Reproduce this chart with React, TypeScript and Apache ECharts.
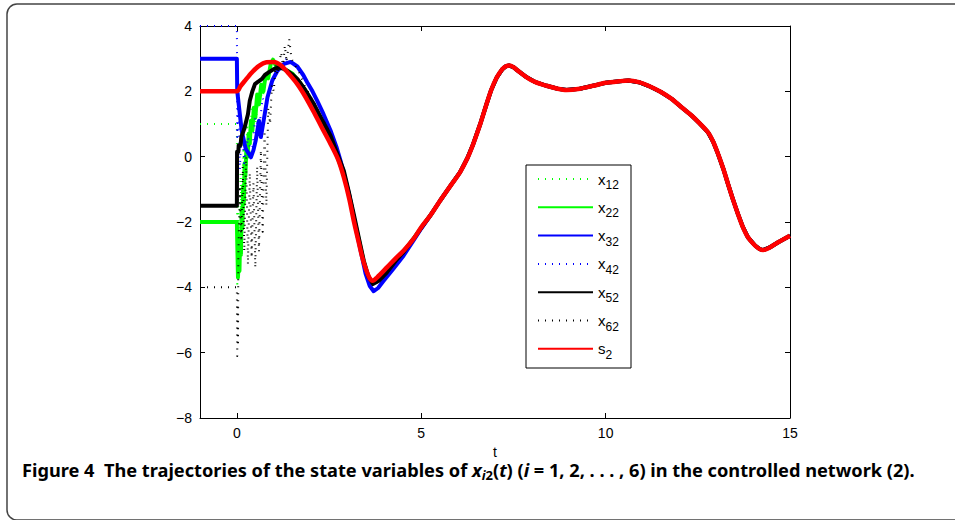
import React, { useEffect, useRef } from 'react';
import * as echarts from 'echarts';

type P = [number, number];

const xTickValues = [0, 5, 10, 15];
const seriesNames = ['x12', 'x22', 'x32', 'x42', 'x52', 'x62', 's2'];

// shared trajectory after synchronization (t >= ~5.2)
const sharedTail: P[] = [
  [5.24, -1.81], [5.51, -1.35], [5.8, -0.88], [6.05, -0.48], [6.25, -0.05], [6.41, 0.39],
  [6.6, 1.0], [6.77, 1.61], [6.9, 2.05], [7.05, 2.43], [7.2, 2.68], [7.3, 2.77], [7.39, 2.79],
  [7.5, 2.74], [7.6, 2.65], [7.86, 2.43], [8.1, 2.28], [8.4, 2.17], [8.7, 2.08], [8.94, 2.04],
  [9.3, 2.08], [9.66, 2.17], [10.0, 2.26], [10.38, 2.31], [10.62, 2.33], [10.9, 2.28],
  [11.16, 2.17], [11.5, 1.98], [11.79, 1.77], [12.05, 1.52], [12.33, 1.26], [12.55, 1.02],
  [12.78, 0.74], [12.92, 0.45], [13.05, 0.08], [13.2, -0.4], [13.32, -0.84], [13.45, -1.3],
  [13.59, -1.76], [13.72, -2.15], [13.86, -2.47], [14.05, -2.72], [14.18, -2.83], [14.27, -2.86],
  [14.45, -2.78], [14.68, -2.62], [15, -2.42],
];

const s2Head: P[] = [
  [-1, 2], [0, 2], [0.1, 2.16], [0.2, 2.3], [0.4, 2.57], [0.6, 2.78], [0.8, 2.89], [1.0, 2.9],
  [1.2, 2.79], [1.4, 2.55], [1.64, 2.22], [1.85, 1.85], [2.09, 1.36], [2.3, 0.9], [2.54, 0.39],
  [2.75, -0.1], [2.9, -0.63], [3.05, -1.3], [3.17, -1.96], [3.3, -2.6], [3.4, -3.08],
  [3.5, -3.45], [3.6, -3.72], [3.68, -3.8], [3.8, -3.7], [4.07, -3.39], [4.3, -3.12],
  [4.52, -2.88], [4.8, -2.5], [5.0, -2.16],
];

const x22Head: P[] = [
  [-1, -2], [0, -2], [0.01, -2.6], [0.03, -3.7], [0.05, -3.1], [0.07, -3.5], [0.09, -2.4],
  [0.11, -3.0], [0.13, -1.6], [0.15, -2.2], [0.17, -0.9], [0.19, -1.4], [0.21, -0.2],
  [0.23, -0.6], [0.26, 0.3], [0.29, 0.0], [0.32, 0.7], [0.35, 0.4], [0.38, 1.1], [0.42, 0.8],
  [0.46, 1.5], [0.5, 1.2], [0.55, 1.9], [0.6, 1.6], [0.66, 2.2], [0.72, 2.0], [0.78, 2.5],
  [0.85, 2.4], [0.92, 2.85], [0.98, 2.97], [1.05, 2.8], [1.15, 2.78], [1.3, 2.68], [1.5, 2.55],
  [1.7, 2.28], [1.9, 1.95], [2.1, 1.55], [2.3, 1.1], [2.54, 0.55], [2.72, 0.0], [2.9, -0.55],
  [3.05, -1.2], [3.17, -1.85], [3.3, -2.5], [3.44, -3.22], [3.56, -3.7], [3.69, -3.86],
  [3.85, -3.75], [4.07, -3.5], [4.3, -3.18], [4.52, -2.9], [4.8, -2.5], [5.0, -2.17],
];

const x12Head: P[] = [
  [-1, 1], [0, 1], [0.01, -4.0], [0.03, -1.0], [0.06, -3.5], [0.1, -0.5], [0.14, -2.5],
  [0.18, 0.5], [0.22, -1.5], [0.28, 1.0], [0.34, 0.0], [0.4, 1.5], [0.5, 1.0], [0.6, 2.0],
  [0.7, 1.8], [0.8, 2.5], [0.9, 2.6], [1.0, 3.0], [1.1, 2.8], [1.25, 2.72], [1.5, 2.55],
  [1.7, 2.28], [1.9, 1.95], [2.1, 1.55], [2.3, 1.1], [2.54, 0.55], [2.72, 0.0], [2.9, -0.55],
  [3.05, -1.2], [3.17, -1.85], [3.3, -2.5], [3.44, -3.22], [3.56, -3.7], [3.69, -3.86],
  [3.85, -3.75], [4.07, -3.5], [4.3, -3.18], [4.52, -2.9], [4.8, -2.5], [5.0, -2.17],
];

const x32Head: P[] = [
  [-1, 3], [0, 3], [0.01, 2.0], [0.13, 0.8], [0.24, 0.24], [0.38, -0.02], [0.45, 0.2],
  [0.51, 0.49], [0.6, 1.1], [0.65, 0.6], [0.74, 1.2], [0.83, 1.82], [0.96, 2.33], [1.1, 2.63],
  [1.28, 2.84], [1.46, 2.9], [1.64, 2.76], [1.8, 2.5], [1.91, 2.27], [2.05, 2.0], [2.18, 1.71],
  [2.35, 1.3], [2.54, 0.8], [2.7, 0.3], [2.81, -0.12], [2.92, -0.6], [3.04, -1.14],
  [3.15, -1.75], [3.26, -2.37], [3.38, -3.0], [3.49, -3.58], [3.6, -3.95], [3.71, -4.12],
  [3.83, -4.02], [3.98, -3.8], [4.25, -3.42], [4.52, -3.03], [4.8, -2.55], [5.0, -2.2],
];

const x42Head: P[] = [
  [-1, 4], [0, 4], [0.01, 0.6], [0.04, 2.0], [0.08, -0.4], [0.13, 1.0], [0.2, -0.2],
  [0.3, 0.6], [0.4, 0.0], [0.5, 1.2], [0.6, 0.8], [0.7, 1.8], [0.8, 1.5], [0.9, 2.2],
  [1.0, 2.4], [1.1, 2.7], [1.2, 2.8], [1.35, 3.0], [1.5, 2.9], [1.7, 2.65], [1.91, 2.27],
  [2.05, 2.0], [2.18, 1.71], [2.35, 1.3], [2.54, 0.8], [2.7, 0.3], [2.81, -0.12], [2.92, -0.6],
  [3.04, -1.14], [3.15, -1.75], [3.26, -2.37], [3.38, -3.0], [3.49, -3.58], [3.6, -3.95],
  [3.71, -4.12], [3.83, -4.02], [3.98, -3.8], [4.25, -3.42], [4.52, -3.03], [4.8, -2.55],
  [5.0, -2.2],
];

const x52Head: P[] = [
  [-1, -1.5], [0, -1.5], [0.005, 0.15], [0.04, 0.15], [0.05, 0.35], [0.1, 0.35], [0.12, 0.6],
  [0.2, 0.85], [0.3, 1.3], [0.35, 1.71], [0.42, 2.0], [0.49, 2.22], [0.58, 2.3], [0.68, 2.38],
  [0.76, 2.5], [0.86, 2.58], [1.0, 2.68], [1.13, 2.73], [1.25, 2.7], [1.36, 2.63], [1.5, 2.52],
  [1.64, 2.38], [1.85, 2.05], [2.09, 1.61], [2.3, 1.15], [2.54, 0.64], [2.72, 0.1],
  [2.9, -0.43], [3.03, -1.05], [3.17, -1.76], [3.3, -2.45], [3.44, -3.18], [3.56, -3.65],
  [3.69, -3.9], [3.85, -3.8], [4.07, -3.54], [4.3, -3.2], [4.52, -2.92], [4.8, -2.5],
  [5.0, -2.18],
];

const x62Head: P[] = [
  [-1, -4], [0, -4], [0.01, -6.1], [0.02, -4.5], [0.03, -5.8], [0.04, -3.0], [0.08, -1.0],
  [0.12, -2.6], [0.16, -0.3], [0.2, -2.9], [0.25, 0.0], [0.3, -3.3], [0.35, -0.5],
  [0.4, -3.1], [0.45, -0.8], [0.5, -3.4], [0.55, -0.3], [0.6, -2.9], [0.65, 0.2], [0.7, -2.3],
  [0.75, 0.8], [0.8, -1.5], [0.85, 1.5], [0.9, 1.0], [0.95, 2.2], [1.0, 2.0], [1.05, 2.8],
  [1.1, 2.5], [1.2, 3.2], [1.25, 2.7], [1.3, 3.4], [1.35, 2.9], [1.42, 3.6], [1.48, 3.0],
  [1.55, 2.85], [1.7, 2.55], [1.85, 2.15], [2.09, 1.65], [2.3, 1.2], [2.54, 0.7], [2.72, 0.15],
  [2.9, -0.4], [3.03, -1.05], [3.17, -1.76], [3.3, -2.45], [3.44, -3.18], [3.56, -3.65],
  [3.69, -3.92], [3.85, -3.82], [4.07, -3.55], [4.3, -3.2], [4.52, -2.92], [4.8, -2.5],
  [5.0, -2.18],
];

const FONT = "'Liberation Sans', Arial, Helvetica, sans-serif";
const CAP_FONT = "'Noto Sans', 'Open Sans', sans-serif";

export default function App() {
  const ref = useRef<HTMLDivElement>(null);

  useEffect(() => {
    if (!ref.current) return;
    const chart = echarts.init(ref.current, undefined, { renderer: 'svg' });

    const heads: Record<string, P[]> = {
      x12: x12Head, x22: x22Head, x32: x32Head, x42: x42Head, x52: x52Head, x62: x62Head, s2: s2Head,
    };
    const styles: Record<string, any> = {
      x12: { color: '#00ff00', width: 2, type: [1, 6] },
      x22: { color: '#00ff00', width: 4, type: 'solid' },
      x32: { color: '#0000ff', width: 4, type: 'solid' },
      x42: { color: '#0000ff', width: 2, type: [1, 6] },
      x52: { color: '#000000', width: 4, type: 'solid' },
      x62: { color: '#000000', width: 2, type: [1, 6] },
      s2: { color: '#ff0000', width: 4.5, type: 'solid' },
    };

    const series = seriesNames.map((n) => ({
      name: n,
      type: 'line',
      data: [...heads[n], ...sharedTail],
      showSymbol: false,
      symbol: 'none',
      smooth: n === 's2' ? 0.3 : false,
      color: styles[n].color,
      lineStyle: { ...styles[n], cap: 'butt', join: 'round' },
      z: 2,
    }));

    const axisLine = { onZero: false, lineStyle: { color: '#000', width: 1 } };
    const axisTick = { inside: true, length: 5, lineStyle: { color: '#000' } };

    chart.setOption({
      animation: false,
      backgroundColor: '#fff',
      grid: { left: 200, top: 26, width: 590, height: 392, containLabel: false },
      xAxis: [
        {
          type: 'value', min: -1, max: 15, position: 'bottom',
          axisLine, splitLine: { show: false },
          axisTick: { ...axisTick, customValues: xTickValues },
          axisLabel: { customValues: xTickValues, color: '#000', fontSize: 14, fontFamily: FONT, margin: 8 },
          name: 't', nameLocation: 'middle', nameGap: 22,
          nameTextStyle: { color: '#000', fontSize: 14, fontFamily: FONT },
        },
        {
          type: 'value', min: -1, max: 15, position: 'top',
          axisLine, splitLine: { show: false },
          axisTick: { ...axisTick, customValues: xTickValues },
          axisLabel: { show: false },
        },
      ],
      yAxis: [
        {
          type: 'value', min: -8, max: 4, interval: 2, position: 'left',
          axisLine, axisTick, splitLine: { show: false },
          axisLabel: {
            color: '#000', fontSize: 14, fontFamily: FONT, margin: 8,
            formatter: (v: number) => String(v).replace('-', '\u2212'),
          },
        },
        {
          type: 'value', min: -8, max: 4, interval: 2, position: 'right',
          axisLine, axisTick, splitLine: { show: false },
          axisLabel: { show: false },
        },
      ],
      legend: {
        orient: 'vertical',
        left: 537,
        top: 167,
        padding: 0,
        itemWidth: 55,
        itemHeight: 14,
        itemGap: 4.3,
        z: 6,
        data: seriesNames,
        itemStyle: { opacity: 0 },
        formatter: (n: string) => n[0] + '{sub|' + n.slice(1) + '}',
        textStyle: {
          color: '#000', fontSize: 15, fontFamily: FONT, lineHeight: 24,
          rich: {
            sub: { fontSize: 12, fontFamily: FONT, lineHeight: 10, verticalAlign: 'bottom', color: '#000' },
          },
        },
      },
      graphic: [
        {
          type: 'rect', z: 0, silent: true,
          shape: { x: 7, y: 4, width: 970, height: 516, r: 10 },
          style: { fill: 'none', stroke: '#444', lineWidth: 1.5 },
        },
        {
          type: 'rect', z: 5, silent: true,
          shape: { x: 526, y: 165, width: 105, height: 203 },
          style: { fill: '#fff', stroke: '#000', lineWidth: 1 },
        },
        {
          type: 'text', left: 22, top: 461, z: 6,
          style: {
            text:
              '{b|Figure 4  The trajectories of the state variables of }{bi|x}{si|i}{sn|2}{b|(}{bi|t}{b|) (}{bi|i}{b| = 1, 2, . . . , 6) in the controlled network (2).}',
            rich: {
              b: { fontSize: 18.2, fontWeight: 'bold', fontFamily: CAP_FONT, lineHeight: 22, fill: '#000' },
              bi: { fontSize: 18.2, fontWeight: 'bold', fontStyle: 'italic', fontFamily: CAP_FONT, lineHeight: 22, fill: '#000' },
              si: { fontSize: 13, fontWeight: 'bold', fontStyle: 'italic', fontFamily: CAP_FONT, lineHeight: 12, verticalAlign: 'bottom', fill: '#000' },
              sn: { fontSize: 13, fontWeight: 'bold', fontFamily: CAP_FONT, lineHeight: 12, verticalAlign: 'bottom', fill: '#000' },
            },
          },
        },
      ],
      series,
    });

    return () => chart.dispose();
  }, []);

  return (
    <div
      ref={ref}
      style={{ position: 'absolute', left: 0, top: 0, width: 955, height: 520, background: '#fff' }}
    />
  );
}
